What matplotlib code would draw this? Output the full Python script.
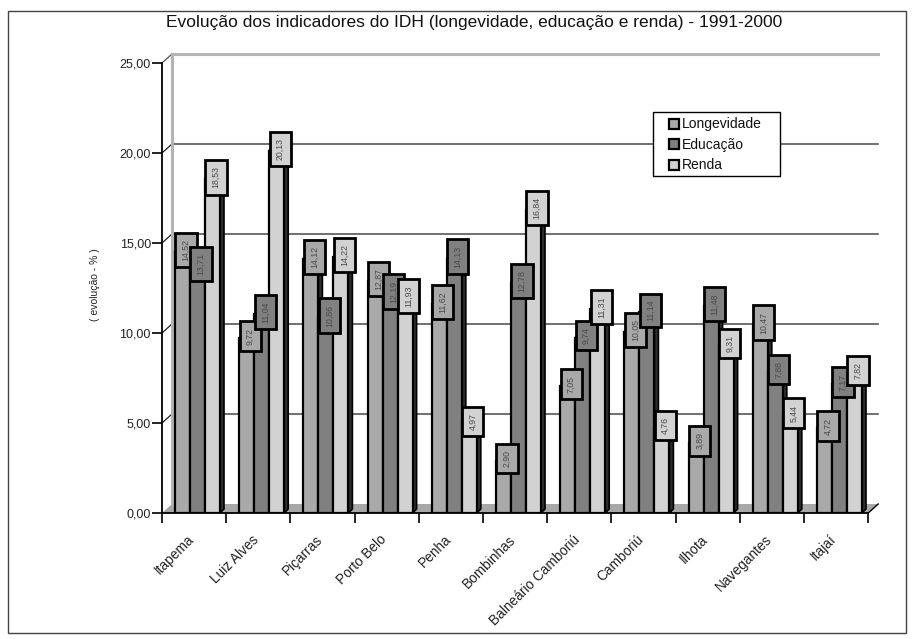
import matplotlib
matplotlib.use("Agg")
import matplotlib.pyplot as plt
from matplotlib.patches import Rectangle, Polygon
from matplotlib.transforms import ScaledTranslation

plt.rcParams['font.family'] = ['Liberation Sans', 'DejaVu Sans']

# ---- data -------------------------------------------------------------
cidades = ["Itapema", "Luiz Alves", "Piçarras", "Porto Belo", "Penha", "Bombinhas",
           "Balneário Camboriú", "Camboriú", "Ilhota", "Navegantes", "Itajaí"]
longevidade = [14.52, 9.72, 14.12, 12.87, 11.62, 2.90, 7.05, 10.05, 3.89, 10.47, 4.72]
educacao = [13.71, 11.04, 10.86, 12.19, 14.13, 12.78, 9.74, 11.14, 11.48, 7.88, 7.17]
renda = [18.53, 20.13, 14.22, 11.93, 4.97, 16.84, 11.31, 4.76, 9.31, 5.44, 7.82]
series_nomes = ["Longevidade", "Educação", "Renda"]
y_ticks = [0, 5, 10, 15, 20, 25]

titulo = "Evolução dos indicadores do IDH (longevidade, educação e renda) - 1991-2000"
rotulo_y = "( evolução - % )"

# ---- styling ----------------------------------------------------------
cores = ["#a9a9a9", "#808080", "#d2d2d2"]
cores_topo = ["#c4c4c4", "#9a9a9a", "#e4e4e4"]
cor_lado = "#2e2e2e"
cor_piso = "#a8a8a8"

W, H = 914, 639
fig = plt.figure(figsize=(W / 100, H / 100), dpi=100)


def fx(px):
    return px / W


def fy(py):
    return 1 - py / H


# plot area in pixels (front axis at left/bottom, back wall shifted up-right)
x_left, x_right = 162, 882
y_top, y_bot = 54, 513
cat_px, unit_px = 64.2, 18.0
ax = fig.add_axes([fx(x_left), fy(y_bot), (x_right - x_left) / W, (y_bot - y_top) / H])
ax.set_xlim(0, (x_right - x_left) / cat_px)
ax.set_ylim(0, (y_bot - y_top) / unit_px)

n = len(cidades)
ymax = y_ticks[-1]
dx, dy = 10 / cat_px, 9 / unit_px        # wall depth
bdx, bdy = 4 / cat_px, 4 / unit_px       # bar depth
w = 15 / cat_px                          # bar width
off = 13 / cat_px                        # gap before the first bar of a group

# floor
ax.add_patch(Polygon([(0, 0), (n, 0), (n + dx, dy), (dx, dy)], closed=True,
                     fc=cor_piso, ec="none", zorder=1))
ax.plot([n, n + dx], [0, dy], color="black", lw=1, zorder=1.5, clip_on=False)

# back wall grid lines and left wall diagonals
for v in y_ticks[1:-1]:
    ax.plot([0, dx, n + dx], [v, v + dy, v + dy], color="#1e1e1e", lw=0.9, zorder=1.2)
ax.plot([0, dx], [ymax, ymax + dy], color="#555555", lw=0.9, zorder=1.2, clip_on=False)
ax.plot([dx, n + dx], [ymax + dy, ymax + dy], color="#b4b4b4", lw=2.2, zorder=1.2,
        clip_on=False)
ax.plot([dx, dx], [dy, ymax + dy], color="#b4b4b4", lw=2.2, zorder=1.2, clip_on=False)

# bars
series = [longevidade, educacao, renda]
rotulos = []
for i in range(n):
    for j, valores in enumerate(series):
        v = valores[i]
        x = i + off + j * w
        z = 3 + j * 0.1
        ax.add_patch(Polygon([(x + w, 0), (x + w + bdx, bdy), (x + w + bdx, v + bdy), (x + w, v)],
                             closed=True, fc=cor_lado, ec="black", lw=1.2, zorder=z))
        ax.add_patch(Polygon([(x, v), (x + w, v), (x + w + bdx, v + bdy), (x + bdx, v + bdy)],
                             closed=True, fc=cores_topo[j], ec="black", lw=1.2, zorder=z))
        ax.add_patch(Rectangle((x, 0), w, v, fc=cores[j], ec="black", lw=1.6, zorder=z))
        rotulos.append((x + w / 2 + bdx / 2 + 1.5 / cat_px, v + bdy / 2, v, j))

# value labels in boxes on top of the bars
for cx, cy, v, j in rotulos:
    ax.text(cx, cy, f"{v:.2f}".replace(".", ","), rotation=90, ha="center", va="center",
            fontsize=6.3, color="#4a4a4a", zorder=10 + j * 0.1,
            bbox=dict(boxstyle="square,pad=0.7", fc=cores[j], ec="black", lw=2.0))

# axes
for s in ["top", "right"]:
    ax.spines[s].set_visible(False)
ax.spines["left"].set_bounds(0, ymax)
ax.spines["bottom"].set_bounds(0, n)
ax.spines["left"].set_linewidth(1.3)
ax.spines["bottom"].set_linewidth(1.3)
ax.spines["left"].set_zorder(2)
ax.spines["bottom"].set_zorder(2)

ax.set_yticks(y_ticks)
ax.set_yticklabels([f"{t:.2f}".replace(".", ",") for t in y_ticks], fontsize=9,
                   color="#222222")
ax.tick_params(axis="y", length=7, width=1.2, pad=1)

ax.set_xticks(range(n + 1))
ax.set_xticklabels([""] * (n + 1))
ax.tick_params(axis="x", which="major", length=7, width=1.2)
ax.set_xticks([i + 0.5 for i in range(n)], minor=True)
ax.set_xticklabels(cidades, minor=True, rotation=45, ha="right", va="top",
                   rotation_mode="anchor", fontsize=9.8, color="#222222")
ax.tick_params(axis="x", which="minor", length=0, pad=14)
shift = ScaledTranslation(-7 / 100, 0, fig.dpi_scale_trans)
for lbl in ax.get_xticklabels(minor=True):
    lbl.set_transform(lbl.get_transform() + shift)

fig.text(fx(95), fy(285), rotulo_y, rotation=90, ha="center", va="center",
         fontsize=7.5, color="#222222")
fig.text(fx(474), fy(22), titulo, ha="center", va="center", fontsize=12.5, color="#111111")

# legend
fig.patches.append(Rectangle((fx(653), fy(176)), (780 - 653) / W, (176 - 112) / H,
                             transform=fig.transFigure, fc="white", ec="black", lw=1.0,
                             zorder=20))
for k, (nome, cor) in enumerate(zip(series_nomes, cores)):
    yc = 124 + k * 20.5
    fig.patches.append(Rectangle((fx(669), fy(yc + 5)), 10 / W, 10 / H,
                                 transform=fig.transFigure, fc=cor, ec="black", lw=1.6,
                                 zorder=21))
    fig.text(fx(682), fy(yc), nome, ha="left", va="center", fontsize=10, color="#111111",
             zorder=22)

# outer frame
fig.patches.append(Rectangle((fx(8), fy(633)), (906 - 8) / W, (633 - 11) / H,
                             transform=fig.transFigure, fill=False, ec="#444444", lw=1.0))

fig.savefig("out.png", dpi=100)
